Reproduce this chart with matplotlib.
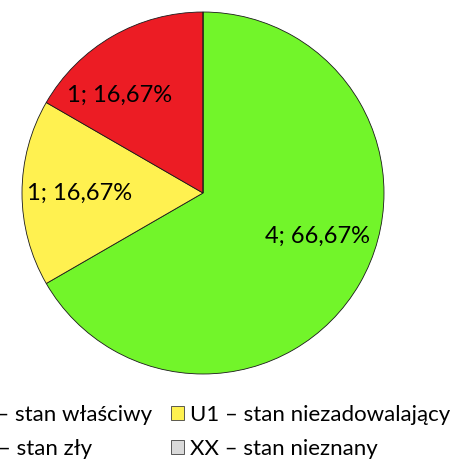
import matplotlib
matplotlib.use("Agg")
import matplotlib.pyplot as plt

plt.rcParams['font.family'] = ['Lato', 'DejaVu Sans']

# dane
kategorie = ["FV – stan właściwy", "U1 – stan niezadowalający",
             "U2 – stan zły", "XX – stan nieznany"]
wartosci = [4, 1, 1, 0]
kolory = ["#72F52A", "#FFF150", "#EC1C24", "#D9D9D9"]

# położenie etykiet (jak w Excelu, w jednostkach promienia)
pozycje_etykiet = [(0.63, -0.24), (-0.68, 0.0), (-0.46, 0.54), (0, 0)]

suma = sum(wartosci)


def etykieta(pct):
    n = int(round(pct * suma / 100))
    if n == 0:
        return ""
    return "%d; %s%%" % (n, ("%.2f" % pct).replace(".", ","))


fig = plt.figure(figsize=(4.6, 4.62), dpi=100)
ax = fig.add_axes([0.0478, 0.1905, 0.787, 0.7835])

wedges, teksty, auto = ax.pie(
    wartosci, colors=kolory, startangle=90, counterclock=False,
    autopct=etykieta, pctdistance=0.68,
    wedgeprops=dict(edgecolor="#1a1a1a", linewidth=0.6),
    textprops=dict(fontsize=17, color="black"))
for w in wedges:
    w.set_clip_on(False)
for t, p in zip(auto, pozycje_etykiet):
    t.set_position(p)
ax.set_xlim(-1, 1)
ax.set_ylim(-1, 1)
ax.set_aspect("equal")

# legenda: wiersz 1 FV, U1; wiersz 2 U2, XX (matplotlib wypełnia kolumnami)
kolejnosc = [0, 2, 1, 3]
lg = fig.legend([wedges[i] for i in kolejnosc], [kategorie[i] for i in kolejnosc],
                ncol=2, loc="upper left", bbox_to_anchor=(-0.122, 0.124),
                frameon=False, fontsize=16, borderpad=0,
                handlelength=0.6, handleheight=0.6, handletextpad=0.25,
                columnspacing=0.86, labelspacing=0.65, borderaxespad=0)
for h in lg.legend_handles:
    h.set_edgecolor("#404040")
    h.set_linewidth(0.6)

fig.savefig("out.png", dpi=100)
